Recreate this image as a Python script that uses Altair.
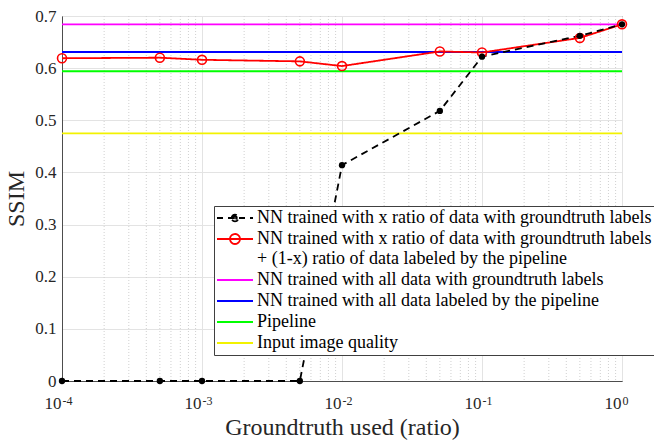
import altair as alt
import pandas as pd

# ---- data ----
x_ratio = [1e-4, 5e-4, 1e-3, 5e-3, 1e-2, 5e-2, 1e-1, 5e-1, 1.0]
ssim_gt_only = [0.0, 0.0, 0.0, 0.0, 0.414, 0.518, 0.622, 0.662, 0.684]
ssim_mixed = [0.619, 0.620, 0.616, 0.613, 0.604, 0.632, 0.630, 0.658, 0.684]
ssim_all_gt = 0.684
ssim_all_pipeline = 0.631
ssim_pipeline = 0.594
ssim_input = 0.475

x_range = [1e-4, 1.0]
x_major_ticks = [1e-4, 1e-3, 1e-2, 1e-1, 1.0]
x_tick_base = "10"
x_tick_exponents = ["-4", "-3", "-2", "-1", "0"]
x_minor_ticks = [2e-4, 3e-4, 4e-4, 5e-4, 6e-4, 7e-4, 8e-4, 9e-4,
                 2e-3, 3e-3, 4e-3, 5e-3, 6e-3, 7e-3, 8e-3, 9e-3,
                 2e-2, 3e-2, 4e-2, 5e-2, 6e-2, 7e-2, 8e-2, 9e-2,
                 2e-1, 3e-1, 4e-1, 5e-1, 6e-1, 7e-1, 8e-1, 9e-1]
y_ticks = [0.0, 0.1, 0.2, 0.3, 0.4, 0.5, 0.6, 0.7]

S1 = "NN trained with x ratio of data with groundtruth labels"
S2 = "NN trained with x ratio of data with groundtruth labels|+ (1-x) ratio of data labeled by the pipeline"
S3 = "NN trained with all data with groundtruth labels"
S4 = "NN trained with all data labeled by the pipeline"
S5 = "Pipeline"
S6 = "Input image quality"
series_names = [S1, S2, S3, S4, S5, S6]
series_colors = ["#000000", "#ff0000", "#ff00ff", "#0000ff", "#00ff00", "#f2f200"]
series_dash = [[7, 5], [1, 0], [1, 0], [1, 0], [1, 0], [1, 0]]

rows = []
for name, val in [(S6, ssim_input), (S5, ssim_pipeline), (S4, ssim_all_pipeline), (S3, ssim_all_gt)]:
    for xv in x_range:
        rows.append({"series": name, "x": xv, "y": val})
for xv, yv in zip(x_ratio, ssim_mixed):
    rows.append({"series": S2, "x": xv, "y": yv})
for xv, yv in zip(x_ratio, ssim_gt_only):
    rows.append({"series": S1, "x": xv, "y": yv})
df = pd.DataFrame(rows)
minor_df = pd.DataFrame({"x": x_minor_ticks})
major_df = pd.DataFrame({"x": x_major_ticks})

FONT = "Liberation Serif"
exp_arr = "[" + ",".join("'" + s + "'" for s in x_tick_exponents) + "]"
idx_expr = "[round(log(datum.value)/LN10)+4]"

xscale = alt.Scale(type="log", domain=x_range, nice=False)
yscale = alt.Scale(domain=[0, 0.7], nice=False, zero=False)
x_title = "Groundtruth used (ratio)"

x_axis = alt.Axis(values=x_major_ticks, labelExpr="'" + x_tick_base + "'", orient="bottom",
                  grid=True, gridColor="#e3e3e3", ticks=False, labelPadding=14,
                  labelAlign="right", labelOffset=-1, labelBaseline="top",
                  labelFontSize=17, titleFontSize=24, titleFontWeight="normal",
                  titlePadding=4, labelColor="#262626", titleColor="#262626",
                  domainColor="#4d4d4d", labelFlush=False, labelOverlap=False)
x_axis_exp = alt.Axis(values=x_major_ticks, labelExpr=exp_arr + idx_expr, orient="bottom",
                      grid=False, ticks=False, domain=False, labelPadding=14,
                      labelAlign="left", labelOffset=0, labelBaseline="top",
                      labelFontSize=12, labelColor="#262626", title=None,
                      labelFlush=False, labelOverlap=False)
y_axis = alt.Axis(values=y_ticks, labelExpr="datum.value == 0 ? '0' : format(datum.value, '.1f')",
                  grid=True, gridColor="#e3e3e3", ticks=False, labelPadding=6,
                  labelFontSize=17, titleFontSize=24, titleFontWeight="normal",
                  titlePadding=6, labelColor="#262626", titleColor="#262626",
                  domainColor="#4d4d4d")


# ---- legend symbols as SVG paths (units scaled by sqrt(64)/2 = 4 px) ----
def seg(a, b):
    return "M%g,0H%g" % (a, b)


def ring(cx, r):
    return "M%g,0A%g,%g,0,1,1,%g,0A%g,%g,0,1,1,%g,0" % (cx - r, r, r, cx + r, r, r, cx - r)


SH = -1.25  # shift symbols left a little
SYM_LINE = seg(-1 + SH, 8 + SH)
SYM_DASH_DOT = (seg(-1 + SH, 0.5 + SH) + seg(1.75 + SH, 3.25 + SH) + seg(4.5 + SH, 6 + SH)
                + seg(7.25 + SH, 8 + SH)
                + ring(3.5 + SH, 0.85) + ring(3.5 + SH, 0.45) + ring(3.5 + SH, 0.1))
SYM_LINE_RING = SYM_LINE + ring(3.5 + SH, 1.25)
series_symbols = [SYM_DASH_DOT, SYM_LINE_RING, SYM_LINE, SYM_LINE, SYM_LINE, SYM_LINE]

legend = alt.Legend(orient="none", legendX=152, legendY=190, title=None,
                    symbolSize=64, symbolStrokeWidth=1.8, symbolDash=[1, 0],
                    labelFont=FONT, labelFontSize=18, labelLimit=0, labelColor="#000000",
                    labelExpr="split(datum.label, '|')", labelOffset=22,
                    fillColor="#ffffff", strokeColor="#404040", padding=3, rowPadding=3,
                    symbolOpacity=1)

color_scale = alt.Scale(domain=series_names, range=series_colors)

grid_minor = alt.Chart(minor_df).mark_rule(strokeDash=[1, 2], color="#d0d0d0", strokeWidth=1).encode(
    x=alt.X("x:Q", scale=xscale, axis=None)
)
exp_layer = alt.Chart(major_df).mark_rule(opacity=0).encode(
    x=alt.X("x:Q", scale=xscale, axis=x_axis_exp)
)
lines = alt.Chart(df).mark_line(strokeWidth=1.8).encode(
    x=alt.X("x:Q", scale=xscale, axis=x_axis, title=x_title),
    y=alt.Y("y:Q", scale=yscale, axis=y_axis, title="SSIM"),
    color=alt.Color("series:N", scale=color_scale, legend=legend),
    strokeDash=alt.StrokeDash("series:N", scale=alt.Scale(domain=series_names, range=series_dash), legend=None),
)
# legend-only layer (no data rows survive the filter); gives the legend its symbols
legend_layer = alt.Chart(df).transform_filter("datum.y > 99").mark_point(
    filled=False, strokeWidth=1.8
).encode(
    x=alt.X("x:Q", scale=xscale, axis=None),
    y=alt.Y("y:Q", scale=yscale, title="SSIM"),
    color=alt.Color("series:N", scale=color_scale, legend=legend),
    shape=alt.Shape("series:N", scale=alt.Scale(domain=series_names, range=series_symbols), legend=legend),
)
red_pts = alt.Chart(df[df.series == S2]).mark_point(
    shape="circle", filled=False, color="#ff0000", size=80, strokeWidth=1.6, opacity=1
).encode(x=alt.X("x:Q", scale=xscale, axis=None), y=alt.Y("y:Q", scale=yscale, title="SSIM"))
black_pts = alt.Chart(df[df.series == S1]).mark_point(
    shape="circle", filled=True, color="#000000", size=40, opacity=1
).encode(x=alt.X("x:Q", scale=xscale, axis=None), y=alt.Y("y:Q", scale=yscale, title="SSIM"))

chart = alt.layer(grid_minor, exp_layer, lines, legend_layer, red_pts, black_pts).resolve_scale(
    x="independent"
).properties(
    width=560, height=365,
    autosize=alt.AutoSizeParams(type="none"),
    padding={"left": 62, "top": 16, "right": 32, "bottom": 60},
    background="#ffffff",
).configure(font=FONT).configure_view(stroke="#4d4d4d", strokeWidth=1)

chart.save("out.html", embed_options={"renderer": "svg", "actions": False})
